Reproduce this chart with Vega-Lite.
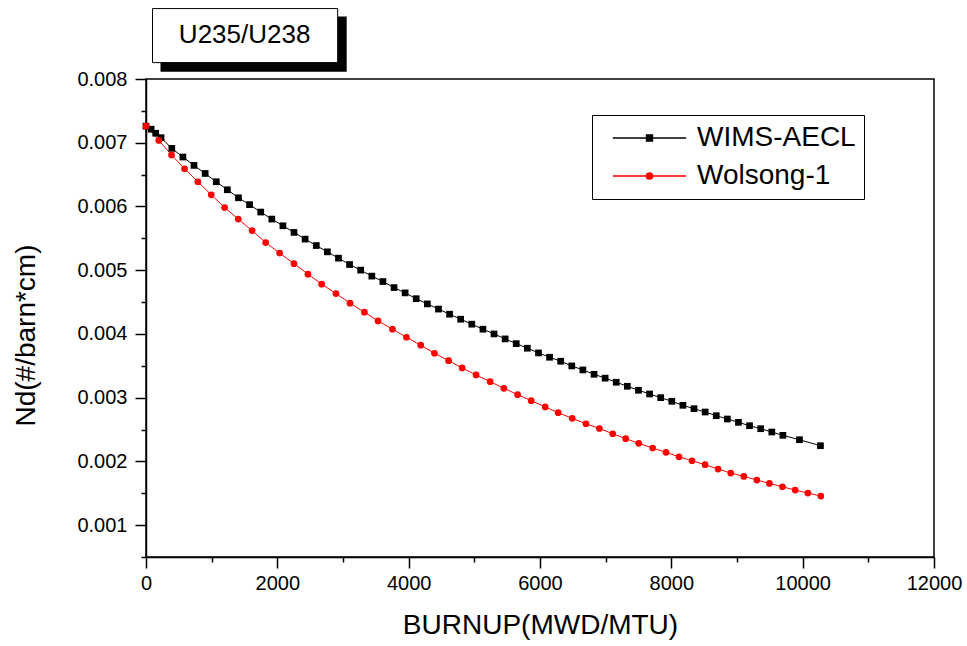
{
  "$schema": "https://vega.github.io/schema/vega-lite/v6.json",
  "width": 788,
  "height": 478,
  "autosize": {"type": "none"},
  "padding": {"left": 146, "top": 79, "right": 33, "bottom": 89},
  "background": "white",
  "config": {
    "view": {"stroke": "black", "strokeWidth": 1.5},
    "font": "Liberation Sans",
    "axis": {
      "grid": false,
      "domainColor": "black",
      "domainWidth": 1.5,
      "tickColor": "black",
      "tickWidth": 1.5,
      "labelFont": "Liberation Sans",
      "labelFontSize": 20,
      "labelColor": "black",
      "titleFont": "Liberation Sans",
      "titleFontSize": 28,
      "titleFontWeight": "normal",
      "titleColor": "black",
      "labelOverlap": false,
      "labelFlush": false
    }
  },
  "layer": [
    {
      "data": {"name": "series"},
      "mark": {"type": "line", "strokeWidth": 1, "clip": true},
      "encoding": {
        "x": {
          "field": "burnup",
          "type": "quantitative",
          "scale": {"domain": [0, 12000], "nice": false, "zero": false},
          "axis": {
            "title": "BURNUP(MWD/MTU)",
            "values": [0,1000,2000,3000,4000,5000,6000,7000,8000,9000,10000,11000,12000],
            "tickCount": 30,
            "format": "d",
            "labelExpr": "datum.value % 2000 === 0 ? datum.label : ''",
            "tickSize": {"condition": {"test": "datum.value % 2000 !== 0", "value": 5}, "value": 11},
            "labelPadding": 5,
            "titleX": 394,
            "titleY": 68,
            "titleBaseline": "middle",
            "titleAlign": "center"
          }
        },
        "y": {
          "field": "nd",
          "type": "quantitative",
          "scale": {"domain": [0.0005, 0.008], "nice": false, "zero": false},
          "axis": {
            "title": "Nd(#/barn*cm)",
            "values": [0.0005,0.001,0.0015,0.002,0.0025,0.003,0.0035,0.004,0.0045,0.005,0.0055,0.006,0.0065,0.007,0.0075,0.008],
            "tickCount": 40,
            "format": ".4f",
            "labelExpr": "slice(datum.label, -1) === '0' ? slice(datum.label, 0, 5) : ''",
            "tickSize": {"condition": {"test": "slice(format(datum.value, '.4f'), -1) !== '0'", "value": 5}, "value": 11},
            "labelPadding": 8,
            "titleX": -120,
            "titleY": 256,
            "titleBaseline": "middle",
            "titleAlign": "center",
            "titleAngle": -90
          }
        },
        "color": {
          "field": "code",
          "type": "nominal",
          "scale": {"domain": ["WIMS-AECL", "Wolsong-1"], "range": ["#000000", "#ff0000"]}
        }
      }
    },
    {
      "data": {"name": "series"},
      "transform": [{"filter": "datum.code === 'WIMS-AECL'"}],
      "mark": {"type": "point", "shape": "square", "filled": true, "size": 45, "opacity": 1},
      "encoding": {
        "x": {"field": "burnup", "type": "quantitative"},
        "y": {"field": "nd", "type": "quantitative"},
        "color": {
          "field": "code",
          "type": "nominal",
          "legend": {
            "title": null,
            "orient": "none",
            "legendX": 446,
            "legendY": 36,
            "strokeColor": "black",
            "fillColor": "white",
            "padding": 8,
            "symbolOffset": 12,
            "symbolSize": 5373,
            "symbolType": {"expr": "datum.value === 'WIMS-AECL' ? 'M-1,0H1M-0.08,-0.08H0.08V0.08H-0.08Z' : 'M-1,0H1M-0.085,0A0.085,0.085 0 1,0 0.085,0A0.085,0.085 0 1,0 -0.085,0'"},
            "clipHeight": 30,
            "rowPadding": 8,
            "labelOffset": 10,
            "labelFont": "Liberation Sans",
            "labelFontSize": 28,
            "labelColor": "black",
            "labelLimit": 400,
            "labelExpr": "datum.label + '\u00a0\u00a0\u00a0\u00a0'",
            "encode": {
              "symbols": {
                "update": {
                  "size": {"value": 5373},
                  "stroke": {"scale": "color", "field": "value"},
                  "fill": {"scale": "color", "field": "value"},
                  "strokeWidth": {"value": 1},
                  "opacity": {"value": 1}
                }
              }
            }
          }
        }
      }
    },
    {
      "data": {"name": "series"},
      "transform": [{"filter": "datum.code === 'Wolsong-1'"}],
      "mark": {"type": "point", "shape": "circle", "filled": true, "size": 45, "opacity": 1},
      "encoding": {
        "x": {"field": "burnup", "type": "quantitative"},
        "y": {"field": "nd", "type": "quantitative"},
        "color": {"field": "code", "type": "nominal"}
      }
    },
    {
      "data": {"values": [{}]},
      "mark": {"type": "rect", "fill": "black"},
      "encoding": {
        "x": {"datum": 221, "type": "quantitative"},
        "x2": {"datum": 3056},
        "y": {"datum": 0.00898, "type": "quantitative"},
        "y2": {"datum": 0.008115}
      }
    },
    {
      "data": {"values": [{}]},
      "mark": {"type": "rect", "fill": "white", "stroke": "black", "strokeWidth": 1},
      "encoding": {
        "x": {"datum": 99, "type": "quantitative"},
        "x2": {"datum": 2919},
        "y": {"datum": 0.009105, "type": "quantitative"},
        "y2": {"datum": 0.008257}
      }
    },
    {
      "data": {"values": [{"label": "U235/U238"}]},
      "mark": {"type": "text", "font": "Liberation Sans", "fontSize": 26, "color": "black", "align": "center", "baseline": "middle"},
      "encoding": {
        "x": {"datum": 1502, "type": "quantitative"},
        "y": {"datum": 0.00869, "type": "quantitative"},
        "text": {"field": "label"}
      }
    }
  ],
  "datasets": {
    "series": [
      {"code": "WIMS-AECL", "burnup": 0, "nd": 0.00726},
      {"code": "WIMS-AECL", "burnup": 78, "nd": 0.007212},
      {"code": "WIMS-AECL", "burnup": 148, "nd": 0.007149},
      {"code": "WIMS-AECL", "burnup": 229, "nd": 0.007079},
      {"code": "WIMS-AECL", "burnup": 393, "nd": 0.006911},
      {"code": "WIMS-AECL", "burnup": 562, "nd": 0.006776},
      {"code": "WIMS-AECL", "burnup": 731, "nd": 0.006644},
      {"code": "WIMS-AECL", "burnup": 901, "nd": 0.006518},
      {"code": "WIMS-AECL", "burnup": 1070, "nd": 0.006388},
      {"code": "WIMS-AECL", "burnup": 1239, "nd": 0.006262},
      {"code": "WIMS-AECL", "burnup": 1408, "nd": 0.006136},
      {"code": "WIMS-AECL", "burnup": 1577, "nd": 0.006029},
      {"code": "WIMS-AECL", "burnup": 1747, "nd": 0.005912},
      {"code": "WIMS-AECL", "burnup": 1916, "nd": 0.005802},
      {"code": "WIMS-AECL", "burnup": 2085, "nd": 0.005697},
      {"code": "WIMS-AECL", "burnup": 2254, "nd": 0.005593},
      {"code": "WIMS-AECL", "burnup": 2423, "nd": 0.005488},
      {"code": "WIMS-AECL", "burnup": 2593, "nd": 0.005387},
      {"code": "WIMS-AECL", "burnup": 2762, "nd": 0.005288},
      {"code": "WIMS-AECL", "burnup": 2931, "nd": 0.005189},
      {"code": "WIMS-AECL", "burnup": 3100, "nd": 0.005089},
      {"code": "WIMS-AECL", "burnup": 3269, "nd": 0.005001},
      {"code": "WIMS-AECL", "burnup": 3439, "nd": 0.004907},
      {"code": "WIMS-AECL", "burnup": 3608, "nd": 0.004822},
      {"code": "WIMS-AECL", "burnup": 3777, "nd": 0.004727},
      {"code": "WIMS-AECL", "burnup": 3946, "nd": 0.004644},
      {"code": "WIMS-AECL", "burnup": 4115, "nd": 0.004553},
      {"code": "WIMS-AECL", "burnup": 4285, "nd": 0.004471},
      {"code": "WIMS-AECL", "burnup": 4454, "nd": 0.00439},
      {"code": "WIMS-AECL", "burnup": 4623, "nd": 0.00431},
      {"code": "WIMS-AECL", "burnup": 4792, "nd": 0.004231},
      {"code": "WIMS-AECL", "burnup": 4961, "nd": 0.004153},
      {"code": "WIMS-AECL", "burnup": 5131, "nd": 0.004074},
      {"code": "WIMS-AECL", "burnup": 5300, "nd": 0.004},
      {"code": "WIMS-AECL", "burnup": 5469, "nd": 0.003922},
      {"code": "WIMS-AECL", "burnup": 5638, "nd": 0.003848},
      {"code": "WIMS-AECL", "burnup": 5807, "nd": 0.003776},
      {"code": "WIMS-AECL", "burnup": 5977, "nd": 0.003702},
      {"code": "WIMS-AECL", "burnup": 6146, "nd": 0.003634},
      {"code": "WIMS-AECL", "burnup": 6315, "nd": 0.003572},
      {"code": "WIMS-AECL", "burnup": 6484, "nd": 0.003498},
      {"code": "WIMS-AECL", "burnup": 6653, "nd": 0.003435},
      {"code": "WIMS-AECL", "burnup": 6823, "nd": 0.003367},
      {"code": "WIMS-AECL", "burnup": 6992, "nd": 0.003306},
      {"code": "WIMS-AECL", "burnup": 7161, "nd": 0.003242},
      {"code": "WIMS-AECL", "burnup": 7330, "nd": 0.003179},
      {"code": "WIMS-AECL", "burnup": 7499, "nd": 0.003116},
      {"code": "WIMS-AECL", "burnup": 7669, "nd": 0.003058},
      {"code": "WIMS-AECL", "burnup": 7838, "nd": 0.003},
      {"code": "WIMS-AECL", "burnup": 8007, "nd": 0.002943},
      {"code": "WIMS-AECL", "burnup": 8176, "nd": 0.00288},
      {"code": "WIMS-AECL", "burnup": 8345, "nd": 0.002827},
      {"code": "WIMS-AECL", "burnup": 8515, "nd": 0.002775},
      {"code": "WIMS-AECL", "burnup": 8684, "nd": 0.002717},
      {"code": "WIMS-AECL", "burnup": 8853, "nd": 0.002665},
      {"code": "WIMS-AECL", "burnup": 9022, "nd": 0.002613},
      {"code": "WIMS-AECL", "burnup": 9191, "nd": 0.00256},
      {"code": "WIMS-AECL", "burnup": 9361, "nd": 0.002513},
      {"code": "WIMS-AECL", "burnup": 9530, "nd": 0.002461},
      {"code": "WIMS-AECL", "burnup": 9699, "nd": 0.002409},
      {"code": "WIMS-AECL", "burnup": 9951, "nd": 0.00234},
      {"code": "WIMS-AECL", "burnup": 10271, "nd": 0.002246},
      {"code": "Wolsong-1", "burnup": 0, "nd": 0.00726},
      {"code": "Wolsong-1", "burnup": 195, "nd": 0.007036},
      {"code": "Wolsong-1", "burnup": 389, "nd": 0.006809},
      {"code": "Wolsong-1", "burnup": 587, "nd": 0.006592},
      {"code": "Wolsong-1", "burnup": 790, "nd": 0.006388},
      {"code": "Wolsong-1", "burnup": 994, "nd": 0.006183},
      {"code": "Wolsong-1", "burnup": 1197, "nd": 0.005984},
      {"code": "Wolsong-1", "burnup": 1405, "nd": 0.005802},
      {"code": "Wolsong-1", "burnup": 1616, "nd": 0.005621},
      {"code": "Wolsong-1", "burnup": 1822, "nd": 0.005434},
      {"code": "Wolsong-1", "burnup": 2035, "nd": 0.005268},
      {"code": "Wolsong-1", "burnup": 2253, "nd": 0.005103},
      {"code": "Wolsong-1", "burnup": 2466, "nd": 0.004938},
      {"code": "Wolsong-1", "burnup": 2675, "nd": 0.004781},
      {"code": "Wolsong-1", "burnup": 2893, "nd": 0.004633},
      {"code": "Wolsong-1", "burnup": 3107, "nd": 0.004482},
      {"code": "Wolsong-1", "burnup": 3326, "nd": 0.004341},
      {"code": "Wolsong-1", "burnup": 3534, "nd": 0.004204},
      {"code": "Wolsong-1", "burnup": 3753, "nd": 0.004074},
      {"code": "Wolsong-1", "burnup": 3966, "nd": 0.003948},
      {"code": "Wolsong-1", "burnup": 4184, "nd": 0.003823},
      {"code": "Wolsong-1", "burnup": 4393, "nd": 0.003697},
      {"code": "Wolsong-1", "burnup": 4608, "nd": 0.003581},
      {"code": "Wolsong-1", "burnup": 4814, "nd": 0.003466},
      {"code": "Wolsong-1", "burnup": 5027, "nd": 0.003356},
      {"code": "Wolsong-1", "burnup": 5241, "nd": 0.003251},
      {"code": "Wolsong-1", "burnup": 5450, "nd": 0.003147},
      {"code": "Wolsong-1", "burnup": 5659, "nd": 0.003047},
      {"code": "Wolsong-1", "burnup": 5866, "nd": 0.002953},
      {"code": "Wolsong-1", "burnup": 6079, "nd": 0.002854},
      {"code": "Wolsong-1", "burnup": 6277, "nd": 0.002764},
      {"code": "Wolsong-1", "burnup": 6491, "nd": 0.002676},
      {"code": "Wolsong-1", "burnup": 6700, "nd": 0.002591},
      {"code": "Wolsong-1", "burnup": 6905, "nd": 0.002516},
      {"code": "Wolsong-1", "burnup": 7107, "nd": 0.002434},
      {"code": "Wolsong-1", "burnup": 7305, "nd": 0.002356},
      {"code": "Wolsong-1", "burnup": 7503, "nd": 0.002284},
      {"code": "Wolsong-1", "burnup": 7716, "nd": 0.00221},
      {"code": "Wolsong-1", "burnup": 7919, "nd": 0.002142},
      {"code": "Wolsong-1", "burnup": 8117, "nd": 0.002073},
      {"code": "Wolsong-1", "burnup": 8315, "nd": 0.00201},
      {"code": "Wolsong-1", "burnup": 8514, "nd": 0.001948},
      {"code": "Wolsong-1", "burnup": 8712, "nd": 0.00188},
      {"code": "Wolsong-1", "burnup": 8905, "nd": 0.001817},
      {"code": "Wolsong-1", "burnup": 9104, "nd": 0.001765},
      {"code": "Wolsong-1", "burnup": 9302, "nd": 0.001707},
      {"code": "Wolsong-1", "burnup": 9494, "nd": 0.001655},
      {"code": "Wolsong-1", "burnup": 9692, "nd": 0.001602},
      {"code": "Wolsong-1", "burnup": 9886, "nd": 0.00155},
      {"code": "Wolsong-1", "burnup": 10079, "nd": 0.001503},
      {"code": "Wolsong-1", "burnup": 10277, "nd": 0.001456}
    ]
  }
}
